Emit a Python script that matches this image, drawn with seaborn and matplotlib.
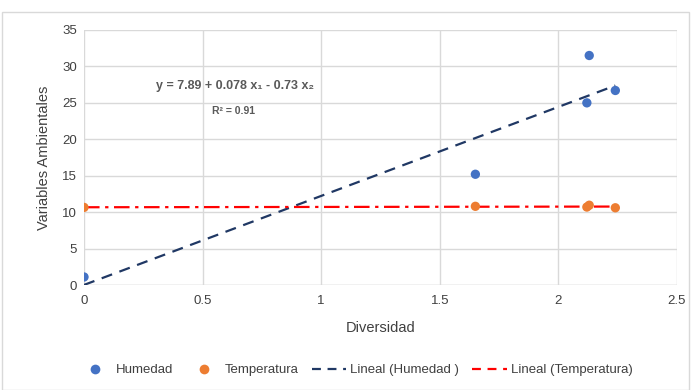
import numpy as np
import pandas as pd
import matplotlib
matplotlib.use("Agg")
import matplotlib.pyplot as plt
from matplotlib.lines import Line2D
from matplotlib.patches import Rectangle
import seaborn as sns

# Data
diversidad = [0.0, 1.65, 2.12, 2.13, 2.24]
humedad = [1.1, 15.2, 25.0, 31.5, 26.7]
temperatura = [10.65, 10.8, 10.7, 10.95, 10.6]
x_ticks = [0, 0.5, 1, 1.5, 2, 2.5]
y_ticks = [0, 5, 10, 15, 20, 25, 30, 35]
legend_labels = ["Humedad", "Temperatura", "Lineal (Humedad )", "Lineal (Temperatura)"]
equation = "y = 7.89 + 0.078 x\u2081 - 0.73 x\u2082"
r2_text = "R\u00b2 = 0.91"

sns.set_theme(style="whitegrid")
plt.rcParams["font.family"] = ["Liberation Sans", "DejaVu Sans"]

c_hum = "#4472C4"
c_tem = "#ED7D31"
c_hum_line = "#203864"
c_tem_line = "#FF0000"

df = pd.DataFrame({"Diversidad": diversidad, "Humedad": humedad, "Temperatura": temperatura})

fig = plt.figure(figsize=(6.93, 3.90), dpi=100)
ax = fig.add_axes([84/693, 1-285/390, (677-84)/693, (285-30)/390])

sns.regplot(data=df, x="Diversidad", y="Humedad", ax=ax, scatter=False, ci=None,
            line_kws=dict(color=c_hum_line, lw=1.6, linestyle=(0, (5, 3.5))))
sns.regplot(data=df, x="Diversidad", y="Temperatura", ax=ax, scatter=False, ci=None,
            line_kws=dict(color=c_tem_line, lw=1.6, linestyle=(0, (7, 2.5, 1.5, 2.5))))
sns.scatterplot(data=df, x="Diversidad", y="Humedad", ax=ax, color=c_hum, s=45,
                edgecolor="none", zorder=3)
sns.scatterplot(data=df, x="Diversidad", y="Temperatura", ax=ax, color=c_tem, s=45,
                edgecolor="none", zorder=3)

ax.set_xlim(0, 2.5)
ax.set_ylim(0, 35)
ax.set_xticks(x_ticks)
ax.set_xticklabels([f"{t:g}" for t in x_ticks])
ax.set_yticks(y_ticks)
ax.grid(True, color="#d9d9d9", lw=1)
for s in ax.spines.values():
    s.set_visible(False)
ax.axhline(0, color="#d9d9d9", lw=1, zorder=0.5)
ax.tick_params(axis="both", labelsize=9.5, colors="#404040", length=0)
ax.tick_params(axis="x", pad=7)
ax.tick_params(axis="y", pad=5)
ax.set_xlabel("Diversidad", fontsize=10.5, color="#404040", labelpad=10)
ax.set_ylabel("Variables Ambientales", fontsize=10.5, color="#404040", labelpad=8)

ax.text(0.637, 27.3, equation, ha="center", va="center", fontsize=9,
        fontweight="bold", color="#595959")
ax.text(0.632, 23.9, r2_text, ha="center", va="center", fontsize=7.5,
        fontweight="bold", color="#595959")

handles = [
    Line2D([], [], marker="o", color="none", markerfacecolor=c_hum, markeredgecolor="none", markersize=7),
    Line2D([], [], marker="o", color="none", markerfacecolor=c_tem, markeredgecolor="none", markersize=7),
    Line2D([], [], color=c_hum_line, lw=1.6, linestyle=(0, (4, 3))),
    Line2D([], [], color=c_tem_line, lw=1.6, linestyle=(0, (4, 3))),
]
leg = fig.legend(handles, legend_labels, loc="center", bbox_to_anchor=(355/693, 20/390),
                 ncol=4, frameon=False, fontsize=9.5, handlelength=2.6, columnspacing=1.0,
                 handletextpad=0.3)
for t in leg.get_texts():
    t.set_color("#404040")

fig.patches.append(Rectangle((2/693, 0.0), 687/693, 1-12/390, transform=fig.transFigure,
                             fill=False, edgecolor="#d9d9d9", lw=1))

fig.savefig("out.png", dpi=100)
